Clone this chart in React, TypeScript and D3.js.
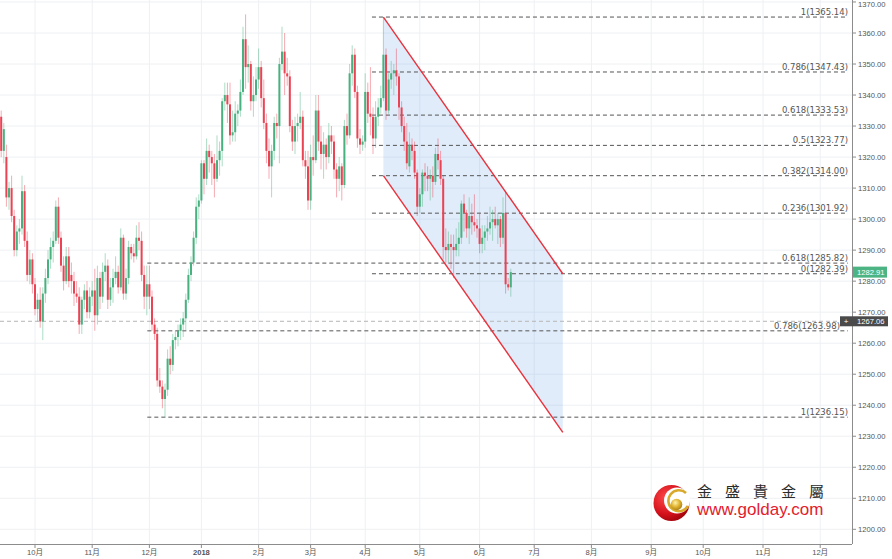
import React from "react";
import * as d3 from "d3";

type Bar = [number, number, number, number]; // open, high, low, close

const sep2017: Bar[] = [
  [1333, 1335, 1320, 1322], [1322, 1331, 1318, 1329], [1320, 1324, 1304, 1307], [1307, 1312, 1303, 1310],
  [1310, 1314, 1299, 1301], [1301, 1303, 1288, 1290], [1290, 1298, 1288, 1296], [1296, 1300, 1292, 1297],
  [1297, 1314, 1295, 1309], [1309, 1311, 1291, 1293], [1293, 1296, 1280, 1282], [1282, 1290, 1279, 1287],
  [1287, 1289, 1276, 1279],
];
const oct2017: Bar[] = [
  [1279, 1281, 1269, 1271], [1271, 1276, 1267, 1274], [1274, 1278, 1265, 1267], [1267, 1278, 1261, 1276],
  [1276, 1284, 1273, 1281], [1281, 1290, 1279, 1287], [1287, 1294, 1284, 1291], [1291, 1296, 1286, 1293],
  [1293, 1306, 1292, 1304], [1304, 1307, 1292, 1294], [1294, 1296, 1283, 1285], [1285, 1288, 1277, 1280],
  [1280, 1291, 1279, 1288], [1288, 1291, 1278, 1280], [1282, 1286, 1276, 1280], [1280, 1283, 1272, 1276],
  [1276, 1280, 1273, 1275], [1275, 1278, 1263, 1266], [1266, 1275, 1263, 1274], [1274, 1279, 1271, 1277],
  [1277, 1280, 1268, 1270], [1270, 1278, 1268, 1275],
];
const nov2017: Bar[] = [
  [1275, 1280, 1272, 1277], [1277, 1284, 1264, 1269], [1269, 1285, 1266, 1281], [1281, 1283, 1271, 1275],
  [1275, 1286, 1273, 1283], [1283, 1289, 1280, 1285], [1285, 1287, 1271, 1274], [1274, 1281, 1272, 1278],
  [1278, 1284, 1273, 1281], [1281, 1288, 1279, 1283], [1283, 1285, 1276, 1278], [1278, 1297, 1277, 1294],
  [1294, 1295, 1274, 1276], [1276, 1284, 1274, 1281], [1281, 1293, 1279, 1291], [1291, 1292, 1287, 1289],
  [1289, 1292, 1286, 1288], [1288, 1298, 1287, 1294], [1294, 1299, 1290, 1293], [1293, 1296, 1280, 1282],
  [1282, 1285, 1271, 1275], [1275, 1285, 1269, 1279],
];
const dec2017: Bar[] = [
  [1279, 1285, 1271, 1275], [1275, 1277, 1264, 1266], [1266, 1268, 1261, 1263], [1263, 1265, 1246, 1248],
  [1248, 1252, 1244, 1246], [1246, 1248, 1239, 1242], [1242, 1247, 1236, 1245], [1245, 1258, 1243, 1255],
  [1255, 1259, 1250, 1253], [1253, 1263, 1251, 1261], [1261, 1264, 1258, 1262], [1262, 1266, 1259, 1264],
  [1264, 1268, 1261, 1266], [1266, 1270, 1262, 1268], [1268, 1276, 1264, 1274], [1274, 1284, 1273, 1282],
  [1282, 1288, 1280, 1286], [1286, 1296, 1285, 1294], [1294, 1307, 1292, 1304], [1304, 1308, 1300, 1306],
];
const jan2018: Bar[] = [
  [1306, 1319, 1305, 1318], [1318, 1319, 1308, 1313], [1313, 1326, 1311, 1322], [1322, 1324, 1315, 1320],
  [1320, 1322, 1311, 1318], [1318, 1321, 1307, 1313], [1313, 1327, 1312, 1319], [1319, 1325, 1314, 1322],
  [1322, 1339, 1317, 1338], [1338, 1344, 1335, 1340], [1340, 1344, 1331, 1337], [1337, 1344, 1324, 1327],
  [1327, 1335, 1325, 1328], [1328, 1338, 1325, 1334], [1334, 1337, 1330, 1335], [1335, 1345, 1333, 1341],
  [1341, 1362, 1340, 1358], [1358, 1366, 1342, 1349], [1349, 1356, 1344, 1350], [1350, 1351, 1335, 1338],
  [1338, 1346, 1333, 1340], [1340, 1349, 1338, 1345],
];
const feb2018: Bar[] = [
  [1345, 1355, 1342, 1349], [1349, 1351, 1336, 1339], [1339, 1345, 1329, 1331], [1331, 1334, 1318, 1322],
  [1322, 1326, 1313, 1317], [1317, 1324, 1307, 1322], [1322, 1333, 1319, 1331], [1331, 1334, 1326, 1330],
  [1330, 1352, 1318, 1350], [1350, 1362, 1348, 1354], [1354, 1360, 1340, 1347], [1347, 1352, 1343, 1346],
  [1346, 1348, 1328, 1330], [1330, 1332, 1322, 1325], [1325, 1333, 1321, 1330], [1330, 1334, 1325, 1331],
  [1331, 1341, 1329, 1333], [1333, 1335, 1317, 1319], [1319, 1322, 1313, 1317], [1317, 1322, 1303, 1306],
];
const mar2018: Bar[] = [
  [1306, 1324, 1303, 1320], [1320, 1327, 1314, 1319], [1319, 1340, 1318, 1335], [1335, 1340, 1322, 1325],
  [1325, 1330, 1316, 1321], [1321, 1328, 1313, 1324], [1324, 1326, 1316, 1320], [1320, 1331, 1318, 1327],
  [1327, 1330, 1321, 1325], [1325, 1327, 1313, 1316], [1316, 1318, 1307, 1313], [1313, 1320, 1309, 1317],
  [1317, 1318, 1306, 1311], [1311, 1332, 1310, 1330], [1330, 1334, 1324, 1327], [1327, 1350, 1326, 1347],
  [1347, 1356, 1343, 1353], [1353, 1355, 1339, 1341], [1341, 1343, 1323, 1326], [1326, 1329, 1321, 1324],
  [1324, 1327, 1322, 1325],
];
const apr2018: Bar[] = [
  [1325, 1347, 1323, 1341], [1341, 1344, 1331, 1334], [1334, 1349, 1327, 1333], [1333, 1336, 1321, 1326],
  [1326, 1338, 1323, 1333], [1333, 1339, 1330, 1336], [1336, 1343, 1334, 1339], [1339, 1365, 1338, 1353],
  [1353, 1355, 1332, 1335], [1335, 1347, 1334, 1345], [1345, 1351, 1342, 1347], [1347, 1350, 1340, 1348],
  [1348, 1355, 1343, 1346], [1346, 1347, 1332, 1336], [1336, 1338, 1328, 1330], [1330, 1333, 1322, 1325],
  [1325, 1331, 1316, 1318], [1317, 1328, 1315, 1324], [1324, 1326, 1319, 1322], [1322, 1325, 1313, 1315],
];
const may2018: Bar[] = [
  [1315, 1316, 1301, 1304], [1304, 1310, 1302, 1308], [1308, 1316, 1304, 1315], [1315, 1318, 1309, 1314],
  [1314, 1317, 1309, 1313], [1313, 1316, 1306, 1314], [1314, 1317, 1307, 1312], [1312, 1323, 1311, 1321],
  [1321, 1326, 1316, 1319], [1319, 1322, 1311, 1313], [1313, 1314, 1287, 1291], [1291, 1297, 1286, 1290],
  [1290, 1296, 1286, 1292], [1292, 1295, 1284, 1291], [1291, 1295, 1281, 1290], [1290, 1297, 1288, 1292],
  [1292, 1299, 1288, 1294], [1294, 1306, 1292, 1305], [1305, 1308, 1296, 1302], [1302, 1303, 1294, 1297],
  [1297, 1307, 1292, 1301], [1301, 1305, 1295, 1299], [1299, 1308, 1296, 1298], [1298, 1300, 1294, 1297],
];
const jun2018: Bar[] = [
  [1297, 1302, 1289, 1292], [1292, 1298, 1289, 1294], [1294, 1298, 1290, 1296], [1296, 1301, 1293, 1297],
  [1297, 1304, 1295, 1299], [1299, 1303, 1293, 1300], [1300, 1304, 1297, 1298], [1298, 1302, 1292, 1300],
  [1300, 1301, 1291, 1294], [1294, 1307, 1292, 1302], [1302, 1309, 1276, 1279], [1279, 1281, 1277, 1278],
  [1278, 1284, 1275, 1282.91],
];

const monthLabels = ["10月", "11月", "12月", "2018", "2月", "3月", "4月", "5月", "6月", "7月", "8月", "9月", "10月", "11月", "12月"];
const monthTickIndex = [0, 22, 44, 64, 86, 106, 127, 148, 171, 192, 214, 237, 257, 280, 302];
const priceTicks = [1200, 1210, 1220, 1230, 1240, 1250, 1260, 1270, 1280, 1290, 1300, 1310, 1320, 1330, 1340, 1350, 1360, 1370];

const fibUpperRatios = ["1", "0.786", "0.618", "0.5", "0.382", "0.236", "0"];
const fibUpperValues = [1365.14, 1347.43, 1333.53, 1323.77, 1314.0, 1301.92, 1282.39];
const fibUpperStart = 129.6;
const fibLowerRatios = ["0.618", "0.786", "1"];
const fibLowerValues = [1285.82, 1263.98, 1236.15];
const fibLowerStart = 43.2;
const fibEnd = 312.7;

const channelIdx = [134, 203];
const channelUpper = [1365.14, 1282.39];
const channelLower = [1314.0, 1231.25];

const lastPrice = 1282.91;
const crosshairPrice = 1267.06;

const PLOT_R = 852;
const PLOT_B = 544;
const UP = "#47b17f";
const DOWN = "#ea4354";

export default function App() {
  const monthly = [sep2017, oct2017, nov2017, dec2017, jan2018, feb2018, mar2018, apr2018, may2018, jun2018];
  const all = monthly.flat();
  const offset = sep2017.length;
  const bars = all.map((b, k) => ({ i: k - offset, o: b[0], h: b[1], l: b[2], c: b[3] }));

  const x = d3.scaleLinear().domain([0, 302]).range([35, 820.2]);
  const y = d3.scaleLinear().domain([1200, 1360]).range([529.3, 33]);

  const chanPoly = [
    [x(channelIdx[0]), y(channelUpper[0])],
    [x(channelIdx[1]), y(channelUpper[1])],
    [x(channelIdx[1]), y(channelLower[1])],
    [x(channelIdx[0]), y(channelLower[0])],
  ];
  const polyStr = chanPoly.map((p) => p.join(",")).join(" ");

  const axisFont = "'Liberation Sans', Arial, 'Noto Sans CJK SC', sans-serif";
  const fibFont = "'DejaVu Sans', Verdana, sans-serif";

  return (
    <svg width={892} height={559} style={{ position: "absolute", left: 0, top: 0, background: "#fff" }}>
      <defs>
        <clipPath id="plot">
          <rect x={0} y={0} width={PLOT_R} height={PLOT_B} />
        </clipPath>
        <clipPath id="paxis">
          <rect x={PLOT_R} y={0} width={892 - PLOT_R} height={PLOT_B} />
        </clipPath>
        <radialGradient id="ball" cx="0.4" cy="0.35" r="0.7">
          <stop offset="0" stopColor="#fff3b0" />
          <stop offset="0.5" stopColor="#e2b632" />
          <stop offset="1" stopColor="#a67a10" />
        </radialGradient>
        <radialGradient id="redg" cx="0.35" cy="0.35" r="0.75">
          <stop offset="0" stopColor="#ff4a4a" />
          <stop offset="0.6" stopColor="#d5121c" />
          <stop offset="1" stopColor="#9a0008" />
        </radialGradient>
      </defs>
      <rect x={0} y={0} width={892} height={559} fill="#fff" />
      <g clipPath="url(#plot)">
        {priceTicks.map((p) => (
          <line key={"hg" + p} x1={0} x2={PLOT_R} y1={y(p)} y2={y(p)} stroke="#eef0f3" strokeWidth={1} />
        ))}
        {monthTickIndex.map((t, k) => (
          <line key={"vg" + k} x1={x(t)} x2={x(t)} y1={0} y2={PLOT_B} stroke="#eef0f3" strokeWidth={1} />
        ))}
        {/* channel */}
        <polygon points={polyStr} fill="rgba(100,160,230,0.2)" stroke="none" />
        {/* crosshair */}
        <line x1={0} x2={PLOT_R} y1={y(crosshairPrice)} y2={y(crosshairPrice)} stroke="#b5b5b5" strokeDasharray="4 3" strokeWidth={1} />
        {/* fib lines */}
        {fibUpperValues.map((v, k) => (
          <g key={"fu" + k}>
            <line x1={x(fibUpperStart)} x2={x(fibEnd)} y1={y(v)} y2={y(v)} stroke="#555" strokeDasharray="4 3" strokeWidth={1} />
            <text x={x(fibEnd)} y={y(v) - 2} textAnchor="end" fontSize={8.5} fontFamily={fibFont} fill="#555">
              {`${fibUpperRatios[k]}(${v.toFixed(2)})`}
            </text>
          </g>
        ))}
        {fibLowerValues.map((v, k) => (
          <g key={"fl" + k}>
            <line x1={x(fibLowerStart)} x2={x(fibEnd)} y1={y(v)} y2={y(v)} stroke="#555" strokeDasharray="4 3" strokeWidth={1} />
            <text x={x(fibEnd) - (k === 1 ? 8 : 0)} y={y(v) - 2} textAnchor="end" fontSize={8.5} fontFamily={fibFont} fill="#555">
              {`${fibLowerRatios[k]}(${v.toFixed(2)})`}
            </text>
          </g>
        ))}
        {/* candles */}
        {bars.map((b) => {
          const up = b.c >= b.o;
          const col = up ? UP : DOWN;
          const cx = x(b.i);
          const top = y(Math.max(b.o, b.c));
          const bot = y(Math.min(b.o, b.c));
          return (
            <g key={"b" + b.i}>
              <line x1={cx} x2={cx} y1={y(b.h)} y2={y(b.l)} stroke={col} strokeOpacity={0.45} strokeWidth={1} />
              <rect x={cx - 1} y={top} width={2} height={Math.max(1, bot - top)} fill={col} />
            </g>
          );
        })}
        {/* channel lines */}
        <line x1={chanPoly[0][0]} y1={chanPoly[0][1]} x2={chanPoly[1][0]} y2={chanPoly[1][1]} stroke="#e8323d" strokeWidth={1.4} />
        <line x1={chanPoly[3][0]} y1={chanPoly[3][1]} x2={chanPoly[2][0]} y2={chanPoly[2][1]} stroke="#e8323d" strokeWidth={1.4} />
      </g>

      {/* axes */}
      <line x1={PLOT_R + 0.5} x2={PLOT_R + 0.5} y1={0} y2={PLOT_B} stroke="#8c8c8c" strokeWidth={1} />
      <line x1={0} x2={PLOT_R} y1={PLOT_B + 0.5} y2={PLOT_B + 0.5} stroke="#8c8c8c" strokeWidth={1} />
      <g clipPath="url(#paxis)">
        {priceTicks.map((p) => (
          <g key={"pt" + p}>
            <line x1={PLOT_R} x2={PLOT_R + 4} y1={y(p)} y2={y(p)} stroke="#8c8c8c" />
            <text x={PLOT_R + 6} y={Math.max(y(p) + 2.7, 7)} fontSize={7.6} fontFamily={axisFont} fill="#555">
              {p.toFixed(2)}
            </text>
          </g>
        ))}
      </g>
      {monthTickIndex.map((t, k) => (
        <g key={"mt" + k}>
          <line x1={x(t)} x2={x(t)} y1={PLOT_B} y2={PLOT_B + 4} stroke="#8c8c8c" />
          <text x={x(t)} y={554.5} textAnchor="middle" fontSize={7.6} fontFamily={axisFont}
            fontWeight={monthLabels[k] === "2018" ? "bold" : "normal"} fill="#555">
            {monthLabels[k]}
          </text>
        </g>
      ))}

      {/* last price label */}
      <rect x={PLOT_R + 1} y={y(lastPrice) - 5.5} width={34} height={11} fill="#4cb483" />
      <text x={PLOT_R + 5} y={y(lastPrice) + 2.7} fontSize={7.6} fontFamily={axisFont} fill="#fff">
        {lastPrice.toFixed(2)}
      </text>
      {/* crosshair label */}
      <rect x={840} y={y(crosshairPrice) - 5} width={48} height={10} fill="#4a4a4a" />
      <text x={846} y={y(crosshairPrice) + 3} textAnchor="middle" fontSize={8} fontFamily={axisFont} fill="#fff">+</text>
      <text x={PLOT_R + 5} y={y(crosshairPrice) + 2.7} fontSize={7.6} fontFamily={axisFont} fill="#fff">
        {crosshairPrice.toFixed(2)}
      </text>

      {/* logo */}
      <g>
        <circle cx={671.5} cy={503} r={18} fill="url(#redg)" />
        <circle cx={677} cy={500.5} r={13} fill="#fff" />
        <path d="M 686 493 A 10.5 10.5 0 1 0 688 506" fill="none" stroke="#d8a92a" strokeWidth={2.6} />
        <circle cx={676.5} cy={504.5} r={5.8} fill="url(#ball)" />
        <text x={697} y={496.5} fontSize={15} letterSpacing={13} fontFamily="'Noto Sans CJK TC', 'Noto Sans CJK SC', sans-serif" fill="#2b2b2b">
          金盛貴金屬
        </text>
        <text x={697} y={514.5} fontSize={17} fontFamily="'Liberation Sans', Arial, sans-serif" fill="#e3202c">
          www.golday.com
        </text>
      </g>
    </svg>
  );
}
